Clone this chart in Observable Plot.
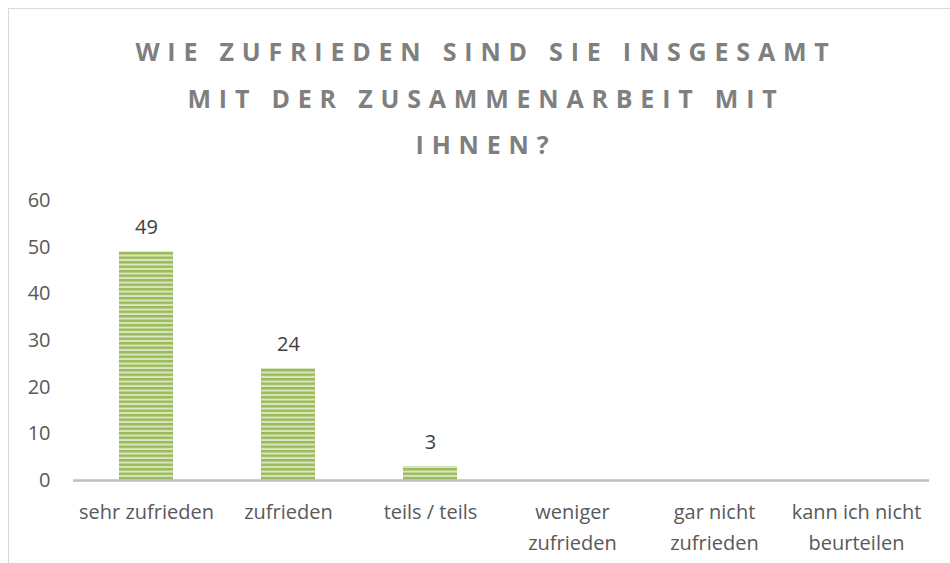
<!DOCTYPE html>
<html><head><meta charset="utf-8">
<script src="https://cdn.jsdelivr.net/npm/d3@7"></script>
<script src="https://cdn.jsdelivr.net/npm/@observablehq/plot@0.6"></script>
<style>
body{margin:0;width:950px;height:563px;overflow:hidden;background:#fff;position:relative;font-family:"Open Sans",sans-serif}
#frame{position:absolute;left:8px;top:8px;width:1000px;height:600px;border:1.5px solid #d9d9d9}
#title{position:absolute;left:4px;width:964px;top:28px;text-align:center;font-weight:bold;font-size:25px;color:#7f7f7f;letter-spacing:7.8px;line-height:46.5px}
#chart{position:absolute;left:0;top:0}
</style></head><body>
<div id="frame"></div>
<div id="title">WIE ZUFRIEDEN SIND SIE INSGESAMT<br>MIT DER ZUSAMMENARBEIT MIT<br>IHNEN?</div>
<div id="chart"></div>
<script>
const categories = ["sehr zufrieden", "zufrieden", "teils / teils", "weniger\nzufrieden", "gar nicht\nzufrieden", "kann ich nicht\nbeurteilen"];
const values = [49, 24, 3, 0, 0, 0];
const yTicks = [0, 10, 20, 30, 40, 50, 60];

const data = categories.map((c, i) => ({category: c, value: values[i]}));

const svg = Plot.plot({
  width: 950,
  height: 563,
  marginTop: 200,
  marginBottom: 83,
  marginLeft: 73,
  marginRight: 21,
  style: {fontFamily: "'Open Sans', sans-serif", fontSize: "20px", color: "#595959", background: "transparent"},
  x: {domain: categories, paddingInner: 0.62, paddingOuter: 0.31, axis: null},
  y: {domain: [0, 60], ticks: yTicks, tickSize: 0, tickPadding: 23, label: null},
  marks: [
    Plot.barY(data, {x: "category", y: "value", fill: "url(#stripes)"}),
    Plot.ruleY([0], {stroke: "#bfbfbf", strokeWidth: 2.5}),
    Plot.text(data.filter(d => d.value > 0), {x: "category", y: "value", text: d => String(d.value), dy: -24, fill: "#404040", fontSize: 20}),
    Plot.text(data, {x: "category", text: "category", frameAnchor: "bottom", lineAnchor: "top", dy: 16, lineHeight: 1.55, fill: "#595959", fontSize: 20})
  ]
});

const ns = "http://www.w3.org/2000/svg";
const defs = document.createElementNS(ns, "defs");
const pat = document.createElementNS(ns, "pattern");
pat.setAttribute("id", "stripes");
pat.setAttribute("patternUnits", "userSpaceOnUse");
pat.setAttribute("width", "8");
pat.setAttribute("height", "4.5");
const r1 = document.createElementNS(ns, "rect");
r1.setAttribute("width", "8"); r1.setAttribute("height", "4.5"); r1.setAttribute("fill", "#dae6c3");
const r2 = document.createElementNS(ns, "rect");
r2.setAttribute("width", "8"); r2.setAttribute("height", "2.5"); r2.setAttribute("fill", "#9bbb59");
pat.appendChild(r1); pat.appendChild(r2);
defs.appendChild(pat);
svg.insertBefore(defs, svg.firstChild);
document.getElementById("chart").appendChild(svg);
</script>
</body></html>
